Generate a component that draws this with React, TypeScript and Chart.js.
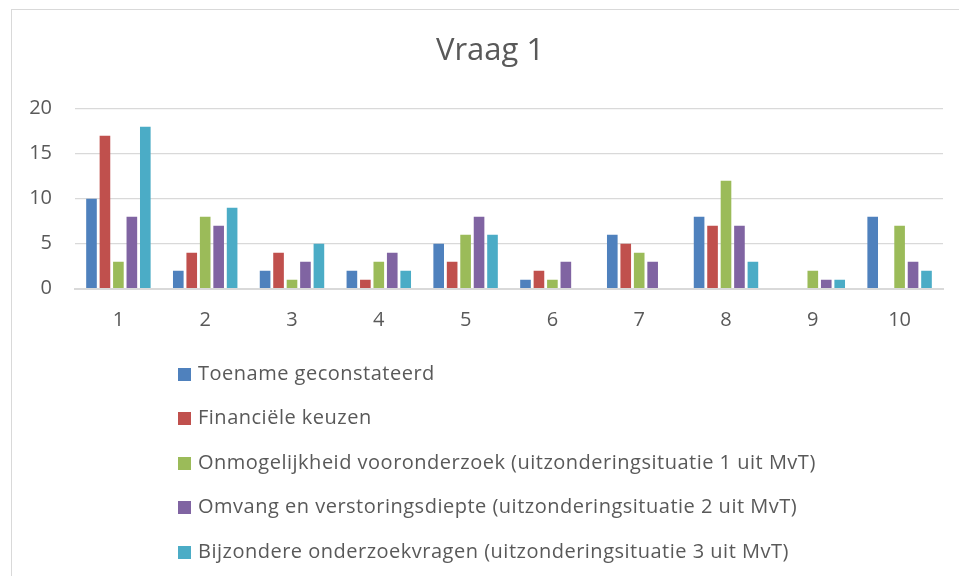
import React, { useEffect, useRef } from "react";
import { Chart, registerables } from "chart.js";

Chart.register(...registerables);

const categories = ["1", "2", "3", "4", "5", "6", "7", "8", "9", "10"];
const seriesNames = [
  "Toename geconstateerd",
  "Financiële keuzen",
  "Onmogelijkheid vooronderzoek (uitzonderingsituatie 1 uit MvT)",
  "Omvang en verstoringsdiepte (uitzonderingsituatie 2 uit MvT)",
  "Bijzondere onderzoekvragen (uitzonderingsituatie 3 uit MvT)",
];
const toename = [10, 2, 2, 2, 5, 1, 6, 8, 0, 8];
const financieel = [17, 4, 4, 1, 3, 2, 5, 7, 0, 0];
const onmogelijk = [3, 8, 1, 3, 6, 1, 4, 12, 2, 7];
const omvang = [8, 7, 3, 4, 8, 3, 3, 7, 1, 3];
const bijzonder = [18, 9, 5, 2, 6, 0, 0, 3, 1, 2];
const colors = ["#4F81BD", "#C0504D", "#9BBB59", "#8064A2", "#4BACC6"];
const yTicks = [0, 5, 10, 15, 20];

const FONT = "'Open Sans', sans-serif";
const TEXT = "#595959";

const vertLegend = {
  id: "vertLegend",
  afterDraw(chart: any) {
    const ctx = chart.ctx;
    const area = chart.chartArea;
    ctx.save();
    ctx.font = `20px ${FONT}`;
    try {
      ctx.letterSpacing = "0.5px";
    } catch (e) {}
    ctx.textBaseline = "middle";
    ctx.textAlign = "left";
    const box = 13;
    const gap = 7;
    let maxW = 0;
    chart.data.datasets.forEach((ds: any) => {
      maxW = Math.max(maxW, ctx.measureText(ds.label).width);
    });
    const total = box + gap + maxW;
    const cx = (area.left + area.right) / 2 - 12;
    const x0 = Math.round(cx - total / 2);
    chart.data.datasets.forEach((ds: any, i: number) => {
      const y = area.bottom + 85.5 + i * 44.5;
      ctx.fillStyle = ds.backgroundColor;
      ctx.fillRect(x0, Math.round(y - box / 2), box, box);
      ctx.fillStyle = TEXT;
      ctx.fillText(ds.label, x0 + box + gap, y);
    });
    ctx.restore();
  },
};

export default function App() {
  const ref = useRef<HTMLCanvasElement>(null);
  useEffect(() => {
    if (!ref.current) return;
    const values = [toename, financieel, onmogelijk, omvang, bijzonder];
    const chart = new Chart(ref.current, {
      type: "bar",
      data: {
        labels: categories,
        datasets: values.map((v, i) => ({
          label: seriesNames[i],
          data: v,
          backgroundColor: colors[i],
          categoryPercentage: 0.775,
          barPercentage: 0.79,
        })),
      },
      options: {
        animation: false,
        responsive: false,
        maintainAspectRatio: false,
        layout: { padding: { left: 28, right: 7, top: 0, bottom: 223.3 } },
        plugins: {
          legend: { display: false },
          tooltip: { enabled: false },
          title: {
            display: true,
            text: "Vraag 1",
            color: TEXT,
            font: { family: FONT, size: 31, weight: "normal" },
            padding: { top: 33, bottom: 38.5 },
          },
        },
        scales: {
          x: {
            grid: { display: false, drawTicks: false },
            border: { display: true, color: "#d9d9d9", width: 2 },
            ticks: { color: TEXT, font: { family: FONT, size: 20 }, padding: 20 },
          },
          y: {
            min: 0,
            max: 20,
            afterBuildTicks: (scale: any) => {
              scale.ticks = yTicks.map((v) => ({ value: v }));
            },
            afterFit: (scale: any) => {
              scale.width = 47;
            },
            grid: { color: "#d9d9d9", lineWidth: 1.3, drawTicks: false },
            border: { display: false },
            ticks: { color: TEXT, font: { family: FONT, size: 20 }, padding: 23 },
          },
          y2: {
            position: "right",
            display: true,
            afterFit: (scale: any) => {
              scale.width = 9;
            },
            grid: { display: false, drawTicks: false },
            border: { display: false },
            ticks: { display: false },
          },
        },
      },
      plugins: [vertLegend],
    });
    return () => chart.destroy();
  }, []);
  return (
    <div style={{ position: "fixed", left: 0, top: 0, width: 959, height: 576, overflow: "hidden", background: "#fff" }}>
      <div
        style={{
          position: "absolute",
          left: 11,
          top: 9,
          width: 1000,
          height: 1000,
          border: "1.5px solid #d9d9d9",
        }}
      />
      <canvas ref={ref} width={959} height={576} style={{ position: "absolute", left: 0, top: 0 }} />
    </div>
  );
}
